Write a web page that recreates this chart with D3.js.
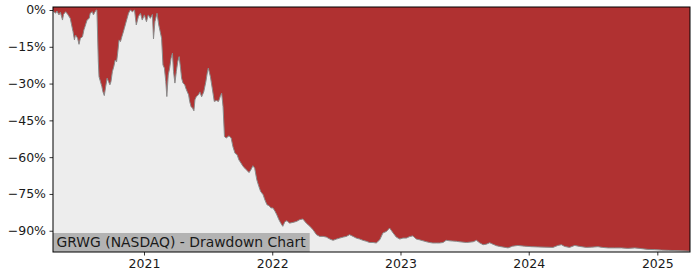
<!DOCTYPE html>
<html>
<head>
<meta charset="utf-8">
<script src="https://cdn.jsdelivr.net/npm/d3@7"></script>
<style>
  body { margin: 0; background: #fff; }
  svg { display: block; font-family: "DejaVu Sans", sans-serif; }
</style>
</head>
<body>
<script>
var w = 700;
var h = 280;
var margin = {top: 7, right: 10, bottom: 28, left: 53};

var ticker = "GRWG (NASDAQ) - Drawdown Chart";

// drawdown dates and values (%)
var dates = [
  "2020-04-17","2020-04-19","2020-04-25","2020-04-28","2020-05-04","2020-05-08","2020-05-14","2020-05-17",
  "2020-05-23","2020-05-29","2020-06-05","2020-06-09","2020-06-13","2020-06-17","2020-06-20","2020-06-26",
  "2020-06-30","2020-07-04","2020-07-10","2020-07-14","2020-07-17","2020-07-23","2020-07-29","2020-08-01",
  "2020-08-07","2020-08-10","2020-08-14","2020-08-18","2020-08-20","2020-08-24","2020-08-26","2020-08-30",
  "2020-09-03","2020-09-06","2020-09-10","2020-09-14","2020-09-18","2020-09-22","2020-09-26","2020-09-29",
  "2020-10-03","2020-10-07","2020-10-11","2020-10-15","2020-10-18","2020-10-22","2020-10-26","2020-10-30",
  "2020-11-02","2020-11-06","2020-11-10","2020-11-14","2020-11-18","2020-11-23","2020-11-29","2020-12-05",
  "2020-12-10","2020-12-16","2020-12-22","2020-12-27","2021-01-02","2021-01-08","2021-01-13","2021-01-19",
  "2021-01-25","2021-01-28","2021-02-01","2021-02-07","2021-02-12","2021-02-16","2021-02-20","2021-02-24",
  "2021-02-28","2021-03-04","2021-03-07","2021-03-11","2021-03-15","2021-03-19","2021-03-23","2021-03-26",
  "2021-03-30","2021-04-03","2021-04-07","2021-04-11","2021-04-15","2021-04-18","2021-04-22","2021-04-27",
  "2021-04-30","2021-05-04","2021-05-08","2021-05-11","2021-05-15","2021-05-19","2021-05-23","2021-05-26",
  "2021-05-30","2021-06-05","2021-06-09","2021-06-14","2021-06-20","2021-06-26","2021-06-30","2021-07-03",
  "2021-07-09","2021-07-15","2021-07-20","2021-07-26","2021-08-01","2021-08-06","2021-08-10","2021-08-14",
  "2021-08-18","2021-08-23","2021-08-31","2021-09-06","2021-09-11","2021-09-17","2021-09-23","2021-09-28",
  "2021-10-04","2021-10-10","2021-10-15","2021-10-21","2021-10-27","2021-11-01","2021-11-07","2021-11-12",
  "2021-11-18","2021-11-24","2021-11-29","2021-12-06","2021-12-11","2021-12-17","2021-12-23","2021-12-28",
  "2022-01-03","2022-01-09","2022-01-14","2022-01-20","2022-01-26","2022-01-31","2022-02-06","2022-02-12",
  "2022-02-19","2022-03-01","2022-03-11","2022-03-20","2022-03-29","2022-04-08","2022-04-18","2022-04-27",
  "2022-05-07","2022-05-16","2022-05-26","2022-06-04","2022-06-14","2022-06-23","2022-07-03","2022-07-12",
  "2022-07-22","2022-07-31","2022-08-09","2022-08-19","2022-08-28","2022-09-07","2022-09-16","2022-09-26",
  "2022-10-05","2022-10-15","2022-10-24","2022-11-03","2022-11-12","2022-11-22","2022-12-01","2022-12-11",
  "2022-12-20","2022-12-30","2023-01-08","2023-01-18","2023-01-27","2023-02-05","2023-02-15","2023-02-24",
  "2023-03-06","2023-03-16","2023-03-25","2023-04-03","2023-04-13","2023-04-22","2023-05-02","2023-05-11",
  "2023-05-21","2023-05-30","2023-06-09","2023-06-18","2023-07-08","2023-07-27","2023-08-05","2023-08-14",
  "2023-08-24","2023-09-02","2023-09-12","2023-09-21","2023-10-01","2023-10-10","2023-10-22","2023-11-03",
  "2023-11-16","2023-12-01","2023-12-20","2024-01-09","2024-01-27","2024-02-16","2024-03-10","2024-03-24",
  "2024-04-03","2024-04-12","2024-04-26","2024-05-11","2024-05-25","2024-06-13","2024-06-28","2024-07-16",
  "2024-07-29","2024-08-14","2024-09-02","2024-09-21","2024-10-09","2024-10-29","2024-11-17","2024-12-05",
  "2024-12-24","2025-01-13","2025-02-01","2025-02-20","2025-03-11","2025-03-30","2025-04-04"
];

var drawdown = [
  0, -0.7, -1.3, -0.4, -2.0, -0.9, -4.1, -1.8,
  -0.7, -1.8, -3.4, -6.1, -8.8, -12.2, -10.2, -11.5,
  -14.0, -11.5, -10.9, -8.1, -6.8, -4.1, -3.4, -1.3,
  -0.7, -2.0, -0.9, 0, 0, -21.1, -27.2, -29.2,
  -31.2, -33.3, -34.9, -31.2, -27.8, -29.2, -30.5, -29.2,
  -25.1, -23.1, -20.4, -21.1, -17.6, -12.2, -12.9, -10.9,
  -9.5, -7.5, -5.4, -3.4, -1.3, 0, -0.7, 0,
  -6.1, -2.7, -1.3, -4.1, -2.0, -4.8, -2.0, -3.4,
  -1.8, -11.8, -4.8, -1.3, -6.1, -8.8, -11.5, -22.4,
  -23.7, -29.2, -35.3, -26.5, -23.7, -19.7, -17.6, -25.1,
  -29.8, -25.1, -21.1, -19.0, -23.7, -27.8, -29.8, -30.5,
  -31.9, -33.3, -34.6, -37.3, -39.4, -40.0, -41.1, -36.6,
  -35.3, -34.6, -33.4, -35.4, -33.4, -29.3, -25.7, -23.7,
  -27.2, -32.6, -37.3, -36.9, -37.3, -35.3, -33.9, -39.4,
  -51.6, -52.2, -51.3, -52.2, -55.7, -58.4, -59.0, -61.1,
  -62.4, -63.8, -64.5, -65.4, -66.3, -65.2, -63.5, -64.5,
  -69.2, -72.0, -74.0, -75.3, -77.4, -79.4, -79.8, -80.7,
  -80.7, -82.1, -83.5, -85.5, -87.1, -88.2, -86.3, -85.9,
  -86.9, -86.6, -86.2, -85.5, -85.2, -86.9, -88.2, -89.6,
  -91.6, -92.3, -92.3, -92.6, -93.4, -93.9, -93.4, -93.0,
  -92.6, -92.3, -91.6, -92.3, -93.0, -93.4, -93.9, -94.3,
  -94.8, -94.8, -95.0, -93.7, -90.9, -90.3, -88.9, -90.9,
  -92.6, -93.4, -93.0, -93.0, -92.4, -92.1, -93.4, -93.7,
  -94.1, -94.5, -94.8, -95.0, -95.0, -95.0, -94.8, -93.9,
  -94.1, -94.2, -94.3, -94.5, -94.8, -94.5, -93.9, -94.9,
  -95.7, -95.5, -94.9, -95.5, -96.1, -96.4, -96.7, -97.0,
  -96.3, -96.0, -96.3, -96.5, -96.6, -96.7, -96.8, -96.0,
  -95.7, -96.4, -96.8, -96.0, -96.4, -96.8, -96.7, -96.5,
  -96.8, -97.0, -97.0, -97.0, -97.2, -97.0, -97.3, -97.6,
  -97.7, -97.9, -98.0, -98.1, -98.2, -98.3, -98.3
];

var yTicks = [0, -15, -30, -45, -60, -75, -90];
var xTicks = ["2021-01-01", "2022-01-01", "2023-01-01", "2024-01-01", "2025-01-01"];

var parseDate = d3.timeParse("%Y-%m-%d");
var dataset = dates.map(function(d, i) { return [parseDate(d), drawdown[i]]; });

var xScale = d3.scaleTime()
               .domain([parseDate("2020-04-17"), parseDate("2025-04-04")])
               .range([margin.left, w - margin.right]);

var yScale = d3.scaleLinear()
               .domain([-98.67, 1.22])
               .range([h - margin.bottom, margin.top]);

var svg = d3.select("body")
            .append("svg")
            .attr("width", w)
            .attr("height", h);

// red background of the plot area
svg.append("rect")
   .attr("x", margin.left)
   .attr("y", margin.top)
   .attr("width", w - margin.left - margin.right)
   .attr("height", h - margin.top - margin.bottom)
   .attr("fill", "#b03131");

var area = d3.area()
             .x(function(d) { return xScale(d[0]); })
             .y0(h - margin.bottom)
             .y1(function(d) { return yScale(d[1]); });

svg.append("path")
   .datum(dataset)
   .attr("d", area)
   .attr("fill", "#ededed");

var line = d3.line()
             .x(function(d) { return xScale(d[0]); })
             .y(function(d) { return yScale(d[1]); });

svg.append("path")
   .datum(dataset)
   .attr("d", line)
   .attr("fill", "none")
   .attr("stroke", "#8a8a8a")
   .attr("stroke-width", 1);

// label box in the bottom-left corner
var label = svg.append("g");
var labelText = label.append("text")
   .attr("x", margin.left + 3.5)
   .attr("y", h - margin.bottom - 5)
   .attr("font-size", "13.9px")
   .attr("fill", "#1a1a1a")
   .text(ticker);
var bb = labelText.node().getBBox();
label.insert("rect", "text")
   .attr("x", margin.left)
   .attr("y", h - margin.bottom - 19)
   .attr("width", bb.width + 7)
   .attr("height", 19)
   .attr("fill", "#b3b3b3");

var xAxis = d3.axisBottom(xScale)
              .tickValues(xTicks.map(parseDate))
              .tickSize(3.5)
              .tickPadding(3.5)
              .tickFormat(d3.timeFormat("%Y"));

var yAxis = d3.axisLeft(yScale)
              .tickValues(yTicks)
              .tickSize(3.5)
              .tickPadding(3.5)
              .tickFormat(function(d) { return d === 0 ? "0%" : "\u2212" + Math.abs(d) + "%"; });

var gx = svg.append("g")
   .attr("transform", "translate(0," + (h - margin.bottom) + ")")
   .call(xAxis);

var gy = svg.append("g")
   .attr("transform", "translate(" + margin.left + ",0)")
   .call(yAxis);

[gx, gy].forEach(function(g) {
  g.select(".domain").remove();
  g.selectAll("text").attr("font-size", "12.5px").attr("fill", "#1a1a1a").attr("font-family", "DejaVu Sans");
  g.selectAll("line").attr("stroke", "#000").attr("stroke-width", 0.8);
});

// frame
svg.append("rect")
   .attr("x", margin.left)
   .attr("y", margin.top)
   .attr("width", w - margin.left - margin.right)
   .attr("height", h - margin.top - margin.bottom)
   .attr("fill", "none")
   .attr("stroke", "#000")
   .attr("stroke-width", 1);
</script>
</body>
</html>
